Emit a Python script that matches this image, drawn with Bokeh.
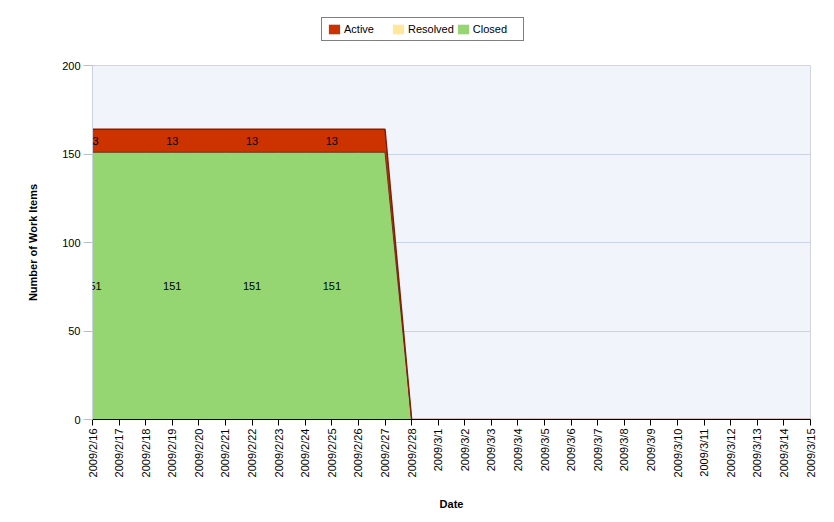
import numpy as np
from bokeh.plotting import figure
from bokeh.layouts import column
from bokeh.models import (Range1d, FixedTicker, Legend, LegendItem, ColumnDataSource, LabelSet)
from bokeh.core.properties import value
from bokeh.embed import file_html
from bokeh.resources import INLINE

dates = ["2009/2/16", "2009/2/17", "2009/2/18", "2009/2/19", "2009/2/20", "2009/2/21",
         "2009/2/22", "2009/2/23", "2009/2/24", "2009/2/25", "2009/2/26", "2009/2/27",
         "2009/2/28", "2009/3/1", "2009/3/2", "2009/3/3", "2009/3/4", "2009/3/5",
         "2009/3/6", "2009/3/7", "2009/3/8", "2009/3/9", "2009/3/10", "2009/3/11",
         "2009/3/12", "2009/3/13", "2009/3/14", "2009/3/15"]
closed = [151, 151, 151, 151, 151, 151, 151, 151, 151, 151, 151, 151,
          0, 0, 0, 0, 0, 0, 0, 0, 0, 0, 0, 0, 0, 0, 0, 0]
resolved = [0] * 28
active = [13, 13, 13, 13, 13, 13, 13, 13, 13, 13, 13, 13,
          0, 0, 0, 0, 0, 0, 0, 0, 0, 0, 0, 0, 0, 0, 0, 0]
label_days = ["2009/2/16", "2009/2/19", "2009/2/22", "2009/2/25"]
y_ticks = [0, 50, 100, 150, 200]
series = ["Closed", "Resolved", "Active"]
colors = ["#96d672", "#ffe89a", "#cc3300"]

FONT = "Liberation Sans"
TOP = 57   # height of legend strip
x = list(range(len(dates)))
src = ColumnDataSource(dict(x=x, Closed=closed, Resolved=resolved, Active=active))

# ---- legend strip (top) ----
lg = figure(width=834, height=TOP, output_backend="svg", toolbar_location=None,
            x_axis_type=None, y_axis_type=None,
            x_range=Range1d(1000, 1834), y_range=Range1d(1000, 1065),
            min_border=0)
lg.outline_line_color = None
lg.background_fill_color = "white"
lg.xgrid.visible = False
lg.ygrid.visible = False
lrs = lg.varea_stack(series, x="x", source=src, color=colors)
items = [LegendItem(label="Active", renderers=[lrs[2]]),
         LegendItem(label="Resolved", renderers=[lrs[1]]),
         LegendItem(label="Closed", renderers=[lrs[0]])]
legend = Legend(items=items, orientation="horizontal", location=(229, TOP - 41),
                border_line_color="black", border_line_width=1,
                background_fill_color="white", background_fill_alpha=1,
                glyph_width=14, glyph_height=12, label_standoff=3, spacing=2,
                label_width=45, padding=5, margin=0,
                label_text_font=FONT, label_text_font_size="11px",
                label_height=12, label_text_color="black")
lg.add_layout(legend, "center")

# ---- main chart ----
p = figure(width=834, height=522 - TOP, output_backend="svg", toolbar_location=None,
           x_range=Range1d(0, len(dates) - 1), y_range=Range1d(0, 200),
           min_border_left=92, min_border_right=24, min_border_top=65 - TOP,
           min_border_bottom=103)
p.background_fill_color = "#f1f4fa"
p.border_fill_color = "white"
p.outline_line_color = "#cfd6e0"

rs = p.varea_stack(series, x="x", source=src, color=colors)

closed_top = np.array(closed)
res_top = closed_top + np.array(resolved)
act_top = res_top + np.array(active)
p.line(x, closed_top, line_color="#5a3a1a", line_width=1)
p.line(x, act_top, line_color="#8b1a00", line_width=1.5)

idx = [dates.index(d) for d in label_days]
lab_src = ColumnDataSource(dict(
    x=idx + idx,
    y=[closed[i] / 2 for i in idx] + [res_top[i] + active[i] / 2 for i in idx],
    t=[str(closed[i]) for i in idx] + [str(active[i]) for i in idx]))
p.add_layout(LabelSet(x="x", y="y", text="t", source=lab_src,
                      text_font=value(FONT), text_font_size="11px", text_align="center",
                      text_baseline="middle", text_color="black"))

p.xgrid.visible = False
p.ygrid.grid_line_color = "#c9d3e2"
p.ygrid.ticker = FixedTicker(ticks=y_ticks)

p.xaxis.ticker = FixedTicker(ticks=x)
p.xaxis.major_label_overrides = {i: d for i, d in enumerate(dates)}
p.xaxis.major_label_orientation = np.pi / 2
p.xaxis.minor_tick_line_color = None
p.xaxis.axis_line_color = "black"
p.xaxis.major_tick_line_color = "black"
p.xaxis.major_tick_out = 6
p.xaxis.major_tick_in = 0
p.xaxis.major_label_standoff = 3
p.xaxis.axis_label = "Date"
p.xaxis.axis_label_standoff = 18

p.yaxis.ticker = FixedTicker(ticks=y_ticks)
p.yaxis.minor_tick_line_color = None
p.yaxis.axis_line_color = "#c9d3e2"
p.yaxis.major_tick_line_color = "#b8c0cc"
p.yaxis.major_tick_out = 9
p.yaxis.major_tick_in = 0
p.yaxis.major_label_standoff = 3
p.yaxis.axis_label = "Number of Work Items"
p.yaxis.axis_label_standoff = 20

for ax in (p.xaxis, p.yaxis):
    ax.major_label_text_font = FONT
    ax.major_label_text_font_size = "11px"
    ax.major_label_text_color = "black"
    ax.axis_label_text_font = FONT
    ax.axis_label_text_font_size = "11px"
    ax.axis_label_text_font_style = "bold"
    ax.axis_label_text_color = "black"

layout = column(lg, p, spacing=0)
open("out.html", "w").write(file_html(layout, INLINE))
